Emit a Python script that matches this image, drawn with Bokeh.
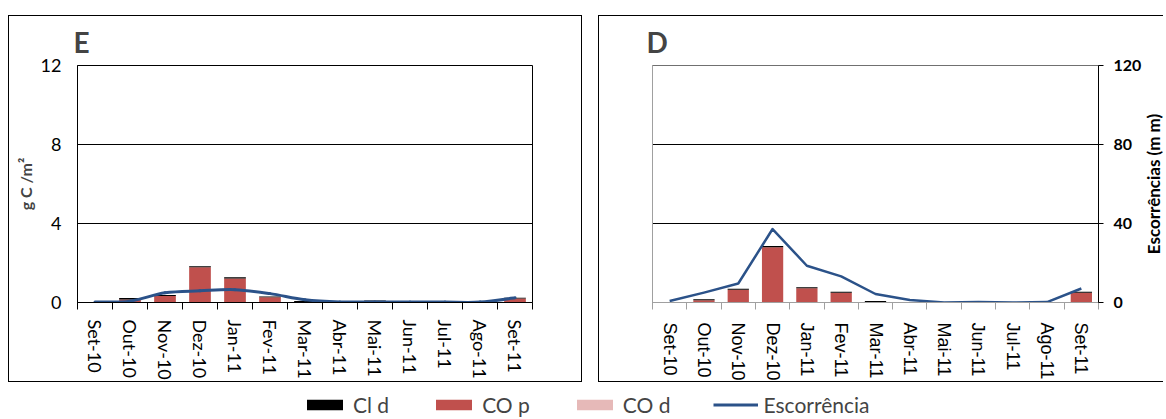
import math
from bokeh.plotting import figure
from bokeh.models import (Range1d, LinearAxis, FixedTicker, Legend, LegendItem,
                          ColumnDataSource)
from bokeh.core.properties import value
from bokeh.layouts import row, column
from bokeh.embed import file_html
from bokeh.resources import INLINE

# ---------------- data ----------------
months = ["Set-10", "Out-10", "Nov-10", "Dez-10", "Jan-11", "Fev-11", "Mar-11",
          "Abr-11", "Mai-11", "Jun-11", "Jul-11", "Ago-11", "Set-11"]

# Panel E (g C/m2 and runoff mm)
cop_E = [0.0, 0.15, 0.33, 1.78, 1.22, 0.26, 0.02, 0.0, 0.06, 0.0, 0.0, 0.0, 0.20]
cld_E = [0.01, 0.08, 0.05, 0.06, 0.06, 0.05, 0.05, 0.01, 0.04, 0.01, 0.01, 0.01, 0.04]
cod_E = [0.0] * 13
esc_E = [0.3, 0.7, 4.9, 5.9, 6.5, 4.5, 1.4, 0.3, 0.3, 0.2, 0.2, 0.2, 2.4]

# Panel D
cop_D = [0.0, 0.12, 0.64, 2.80, 0.72, 0.50, 0.02, 0.0, 0.0, 0.02, 0.0, 0.0, 0.50]
cld_D = [0.01, 0.05, 0.05, 0.06, 0.05, 0.05, 0.05, 0.01, 0.01, 0.03, 0.01, 0.01, 0.05]
cod_D = [0.0] * 13
esc_D = [0.8, 5.0, 9.6, 37.2, 18.6, 13.2, 4.3, 1.3, 0.0, 0.2, 0.0, 0.2, 7.1]

left_ticks = [0, 4, 8, 12]
right_ticks = [0, 40, 80, 120]
legend_labels = ["Cl d", "CO p", "CO d", "Escorrência"]
right_title = "Escorrências (m m)"

FONT = "Lato"
RED = "#C0504D"
PINK = "#E6B9B8"
BLUE = "#2B5289"


def make_panel(name, cop, cld, cod, esc, width, mb, show_left, show_right, smooth,
               line_w, frame_col, base_col, title_off, xfont, xstand, margin, styles):
    n = len(months)
    xs = [i + 0.5 for i in range(n)]
    p = figure(width=width, height=367, output_backend="svg", toolbar_location=None,
               x_range=Range1d(0, n), y_range=Range1d(0, 12),
               min_border_left=mb[0], min_border_right=mb[1],
               min_border_top=mb[2], min_border_bottom=mb[3],
               styles=styles, margin=margin)
    p.extra_y_ranges = {"esc": Range1d(0, 120)}
    p.outline_line_color = frame_col
    p.background_fill_color = "white"
    p.border_fill_color = "white"

    p.title.text = name
    p.title.text_font = FONT
    p.title.text_font_size = "28px"
    p.title.text_font_style = "bold"
    p.title.offset = title_off
    p.title.standoff = 13

    src = ColumnDataSource(dict(x=xs, cop=cop, cld=cld, cod=cod, esc=esc))
    p.vbar_stack(["cop", "cld", "cod"], x="x", width=0.62, source=src,
                 color=[RED, "black", PINK], line_color=None)

    if smooth:
        x0, y0, x1, y1, cx0, cy0, cx1, cy1 = [], [], [], [], [], [], [], []
        for i in range(n - 1):
            a = max(i - 1, 0)
            d = min(i + 2, n - 1)
            x0.append(xs[i]); y0.append(esc[i])
            x1.append(xs[i + 1]); y1.append(esc[i + 1])
            cx0.append(xs[i] + (xs[i + 1] - xs[a]) / 6.0)
            cy0.append(esc[i] + (esc[i + 1] - esc[a]) / 6.0)
            cx1.append(xs[i + 1] - (xs[d] - xs[i]) / 6.0)
            cy1.append(esc[i + 1] - (esc[d] - esc[i]) / 6.0)
        p.bezier(x0=x0, y0=y0, x1=x1, y1=y1, cx0=cx0, cy0=cy0, cx1=cx1, cy1=cy1,
                 y_range_name="esc", line_color=BLUE, line_width=line_w, line_cap="round")
    else:
        p.line(x="x", y="esc", source=src, y_range_name="esc", line_color=BLUE,
               line_width=line_w, line_join="round")

    # x axis
    xa = p.xaxis[0]
    xa.ticker = FixedTicker(ticks=xs, minor_ticks=list(range(n + 1)))
    xa.major_label_overrides = {x: m for x, m in zip(xs, months)}
    xa.major_label_orientation = -math.pi / 2
    xa.major_tick_out = 0
    xa.major_tick_in = 0
    xa.minor_tick_out = 7
    xa.minor_tick_in = 0
    xa.minor_tick_line_color = base_col
    xa.axis_line_color = base_col
    xa.major_label_text_font = xfont
    xa.major_label_text_font_size = "18px"
    xa.major_label_text_color = "black"
    xa.major_label_standoff = xstand

    # y axis left
    ya = p.yaxis[0]
    ya.major_tick_out = 0
    ya.major_tick_in = 0
    ya.minor_tick_out = 0
    ya.minor_tick_in = 0
    if show_left:
        ya.ticker = FixedTicker(ticks=left_ticks)
        ya.axis_line_color = "black"
        ya.major_label_text_font = FONT
        ya.major_label_text_font_size = "18px"
        ya.major_label_text_color = "black"
        ya.major_label_standoff = 16
        ya.axis_label = "g C /m²"
        ya.axis_label_text_font = FONT
        ya.axis_label_text_font_size = "16px"
        ya.axis_label_text_font_style = "bold"
        ya.axis_label_standoff = 3
    else:
        ya.ticker = FixedTicker(ticks=[])
        ya.axis_line_color = "#A0A0A0"
        ya.major_label_standoff = 0

    p.xgrid.grid_line_color = None
    p.ygrid.ticker = FixedTicker(ticks=[4, 8])
    p.ygrid.grid_line_color = "black"
    p.ygrid.grid_line_width = 1

    if show_right:
        ra = LinearAxis(y_range_name="esc", ticker=FixedTicker(ticks=right_ticks))
        ra.axis_line_color = "black"
        ra.major_tick_out = 5
        ra.major_tick_in = 0
        ra.minor_tick_out = 0
        ra.minor_tick_in = 0
        ra.major_label_text_font = FONT
        ra.major_label_text_font_size = "16px"
        ra.major_label_text_font_style = "bold"
        ra.major_label_text_color = "black"
        ra.major_label_standoff = 10
        p.add_layout(ra, "right")
    return p


pE = make_panel("E", cop_E, cld_E, cod_E, esc_E, 574, (68, 51, 47, 81),
                True, False, True, 3, "black", "black", -4, FONT, 10, (15, 16, 0, 8),
                {"border": "1px solid #000"})
pD = make_panel("D", cop_D, cld_D, cod_D, esc_D, 545, (53, 45, 44, 80),
                False, True, False, 2.5, "#707070", "#A0A0A0", -6,
                "Liberation Sans", 13, (15, 0, 0, 0),
                {"border-top": "1px solid #000", "border-left": "1px solid #000",
                 "border-bottom": "1px solid #000"})

# narrow strip that carries the right-hand axis title of panel D
pL = figure(width=20, height=367, output_backend="svg", toolbar_location=None,
            x_range=Range1d(0, 1), y_range=Range1d(0, 1),
            x_axis_type=None, y_axis_type=None,
            min_border_left=0, min_border_right=0, min_border_top=44, min_border_bottom=80,
            margin=(15, 0, 0, 0),
            styles={"border-top": "1px solid #000", "border-bottom": "1px solid #000"})
pL.outline_line_color = None
pL.xgrid.visible = False
pL.ygrid.visible = False
pL.text(x=[0.5], y=[0.5], text=[right_title], angle=math.pi / 2,
        text_font=value(FONT), text_font_size="17px", text_font_style="bold",
        text_align="center", text_baseline="middle", text_color="black")

# legend strip (legend renderers carry zero-size data so they draw nothing)
lf = figure(width=1166, height=35, output_backend="svg", toolbar_location=None,
            x_range=Range1d(0, 1), y_range=Range1d(0, 1),
            x_axis_type=None, y_axis_type=None,
            min_border_left=0, min_border_right=0, min_border_top=0, min_border_bottom=0)
lf.outline_line_color = None
lf.xgrid.visible = False
lf.ygrid.visible = False
r1 = lf.vbar(x=[0.5], top=[0], bottom=[0], width=0.0, fill_color="black", line_color=None)
r2 = lf.vbar(x=[0.5], top=[0], bottom=[0], width=0.0, fill_color=RED, line_color=None)
r3 = lf.vbar(x=[0.5], top=[0], bottom=[0], width=0.0, fill_color=PINK, line_color=None)
r4 = lf.line(x=[0.5, 0.5], y=[0, 0], line_color=BLUE, line_width=3)
leg = Legend(items=[LegendItem(label=t, renderers=[r]) for t, r in
                    zip(legend_labels, [r1, r2, r3, r4])],
             orientation="horizontal", location=(302, 0),
             glyph_width=45, glyph_height=13, spacing=42,
             padding=0, margin=0, border_line_color=None, background_fill_alpha=0,
             label_text_font=FONT, label_text_font_size="21px", label_standoff=6)
lf.add_layout(leg)

layout = column(row(pE, pD, pL), lf)

with open("out.html", "w") as f:
    f.write(file_html(layout, INLINE))
